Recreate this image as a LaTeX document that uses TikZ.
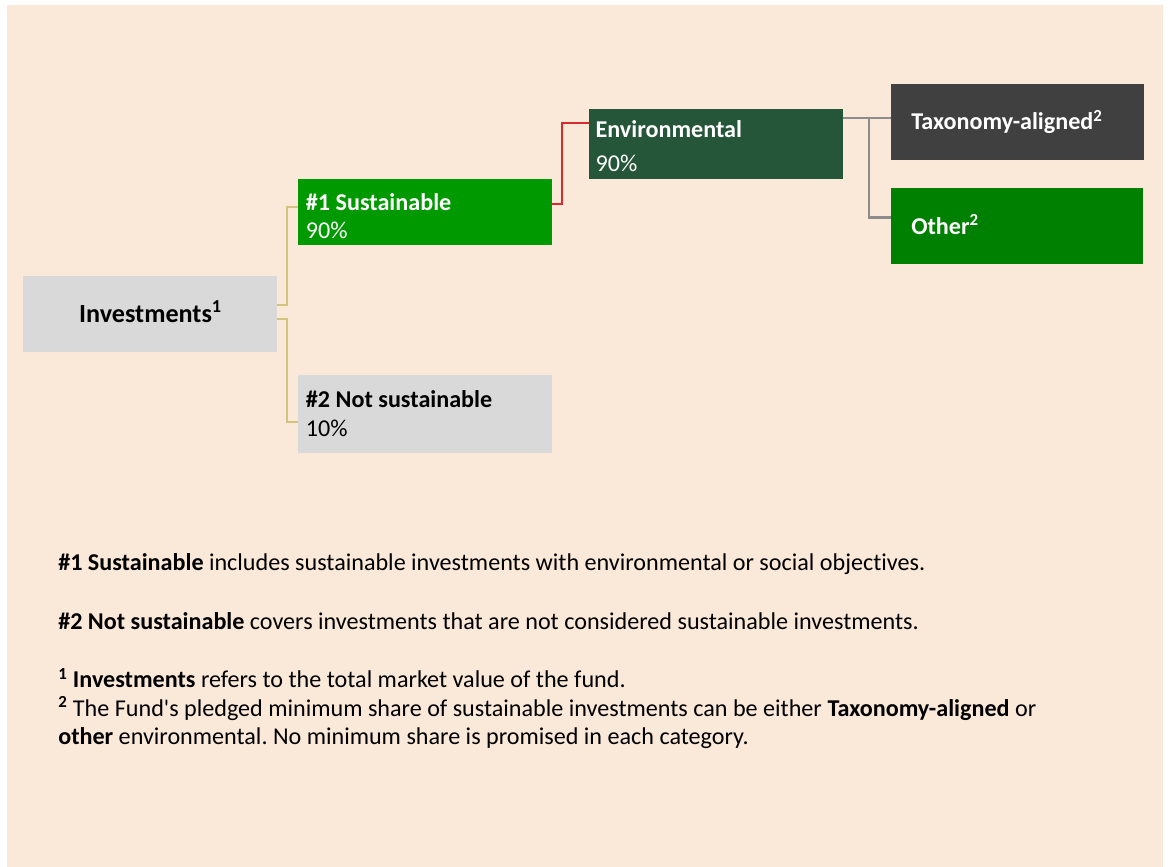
\documentclass[tikz,border=0pt]{standalone}
\usepackage{fontspec}
\setmainfont{Carlito}[Ligatures={NoCommon}]
\frenchspacing
\definecolor{peach}{HTML}{FAE8D8}
\definecolor{boxgray}{HTML}{D9D9D9}
\definecolor{susgreen}{HTML}{009900}
\definecolor{envgreen}{HTML}{255639}
\definecolor{taxgray}{HTML}{404040}
\definecolor{othgreen}{HTML}{008000}
\definecolor{tanline}{HTML}{D2C47C}
\definecolor{redline}{HTML}{D92B2B}
\definecolor{grayline}{HTML}{8C8C8C}
\begin{document}
\begin{tikzpicture}[x=0.75pt,y=-0.75pt,
  every node/.style={font=\fontsize{18.1}{21}\selectfont},
  box/.style={draw=none,inner sep=0pt,minimum width=190.5pt},
  lbl/.style={anchor=base west,inner sep=0pt},
  darklbl/.style={lbl,text=white},
  link/.style={line width=1.5pt}]
  % page and panel
  \fill[white] (0,0) rectangle (1168,867);
  \fill[peach] (7,5) rectangle (1163,867);
  \useasboundingbox (0,0) rectangle (1168,867);

  % boxes
  \node[box,fill=boxgray,minimum height=57pt] (inv) at (150,314) {};
  \node[box,fill=susgreen,minimum height=49.5pt] (sus) at (425,212) {};
  \node[box,fill=boxgray,minimum height=58.5pt] (nsus) at (425,414) {};
  \node[box,fill=envgreen,minimum height=52.5pt] (env) at (716,144) {};
  \node[box,fill=taxgray,minimum height=57pt,minimum width=189.75pt] (tax) at (1017.5,122) {};
  \node[box,fill=othgreen,minimum height=57pt,minimum width=189pt] (oth) at (1017,226) {};

  % box texts
  \node[anchor=base,inner sep=0pt,font=\fontsize{19.6}{23}\selectfont] (invt) at (150.5,322.7) {\textbf{Investments\textsuperscript{1}}};
  \node[darklbl] (sust) at (305.7,210) {\textbf{\#1 Sustainable}};
  \node[darklbl] (susp) at (305.7,238.7) {90\%};
  \node[lbl] (nsust) at (305.7,407.3) {\textbf{\#2 Not sustainable}};
  \node[lbl] (nsusp) at (305.7,436.7) {10\%};
  \node[darklbl] (envt) at (595.3,137.3) {\textbf{Environmental}};
  \node[darklbl] (envp) at (595.3,171.7) {90\%};
  \node[darklbl] (taxt) at (911,130) {\textbf{Taxonomy-aligned\textsuperscript{2}}};
  \node[darklbl] (otht) at (911,234) {\textbf{Other\textsuperscript{2}}};

  % connectors
  \draw[link,tanline] (inv.east |- 0,304.7) -- (287,304.7) |- (sus.west |- 0,206.7);
  \draw[link,tanline] (inv.east |- 0,319.3) -- (287,319.3) |- (nsus.west |- 0,422);
  \draw[link,redline] (sus.east |- 0,204.3) -- (562,204.3) |- (env.west |- 0,122.7);
  \draw[link,grayline,line width=1.9pt] (env.east |- 0,118) -- (tax.west |- 0,118);
  \draw[link,grayline,line width=1.9pt] (869,118) |- (oth.west |- 0,217.5);

  % notes
  \node[lbl] (n1) at (58,570) {\textbf{\#1 Sustainable} includes sustainable investments with environmental or social objectives.};
  \node[lbl] (n2) at (58,629.3) {\textbf{\#2 Not sustainable} covers investments that are not considered sustainable investments.};
  \node[lbl] (n3) at (58,687.7) {\textbf{\textsuperscript{1} Investments} refers to the total market value of the fund.};
  \node[lbl] (n4) at (58,716) {\textbf{\textsuperscript{2}} The Fund\textquotesingle s pledged minimum share of sustainable investments can be either \textbf{Taxonomy-aligned} or};
  \node[lbl] (n5) at (58,744) {\textbf{other} environmental. No minimum share is promised in each category.};
\end{tikzpicture}
\end{document}
